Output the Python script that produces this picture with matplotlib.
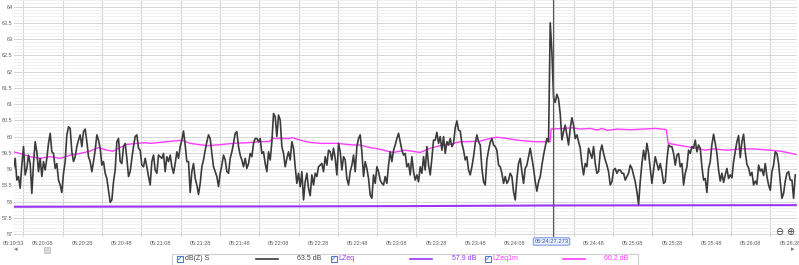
import numpy as np
import matplotlib.pyplot as plt
from matplotlib.patches import Rectangle
from matplotlib.lines import Line2D

plt.rcParams['font.family'] = ['Liberation Sans', 'DejaVu Sans']

# start of record, sample step of dB(Z) S (seconds)
start_hms = (5, 19, 53)
dt = 0.848

# dB(Z) S
zs_db = [
    59.02, 59.33, 58.66, 58.77, 58.41, 59.12, 59.69, 58.82, 59.02, 59.43,
    59.17, 58.25, 59.17, 59.84, 59.53, 58.92, 59.33, 58.77, 59.23, 58.97,
    59.33, 59.79, 60.10, 59.53, 59.48, 59.02, 59.17, 58.66, 58.51, 58.28,
    58.87, 59.23, 60.05, 60.30, 60.25, 59.53, 59.23, 59.38, 59.69, 59.89,
    60.05, 59.69, 60.15, 60.23, 59.84, 59.38, 59.23, 58.92, 59.23, 59.58,
    60.05, 59.89, 59.64, 59.12, 59.23, 58.87, 58.71, 58.35, 57.98, 58.05,
    58.61, 58.97, 59.84, 59.94, 59.23, 59.17, 59.69, 59.79, 59.33, 58.77,
    58.92, 59.33, 59.69, 60.00, 60.05, 59.64,
    59.58, 59.12, 59.07, 59.33, 59.07, 58.77, 58.51, 59.23, 59.43, 58.97,
    58.87, 59.43, 59.38, 59.33, 59.48, 58.92, 59.38, 59.23, 59.43, 59.07,
    58.87, 59.17, 59.53, 59.33, 59.69, 59.89, 60.17, 59.74, 59.23, 59.23,
    58.28, 58.92, 59.17, 58.71, 58.51, 58.22, 58.56, 59.07, 59.28, 59.58,
    59.84, 60.05, 59.94, 59.48, 59.07, 58.92, 58.77, 58.46, 58.87, 59.12,
    59.43, 59.28, 58.92, 58.87, 59.33, 59.53, 59.79, 60.10, 60.15, 59.69,
    59.43, 59.28, 59.07, 59.33, 59.02, 59.17, 59.48, 59.38, 59.79, 59.94,
    59.94, 59.84, 59.94, 59.48, 59.53, 59.17, 58.92, 59.53,
    59.28, 59.84, 60.71, 60.61, 60.00, 60.66, 60.51, 59.69, 59.48, 59.07,
    59.33, 59.53, 59.28, 59.84, 59.64, 59.07, 58.56, 58.87, 58.46, 58.92,
    58.05, 58.61, 58.87, 58.41, 58.18, 58.82, 58.51, 58.87, 58.77, 59.07,
    59.12, 59.17, 58.92, 59.38, 59.12, 59.58, 59.53, 59.28, 59.64, 59.33,
    58.82, 59.79, 59.53, 58.97, 59.38, 59.28, 58.71, 58.51, 58.92, 59.12,
    59.43, 58.92, 59.69, 59.94, 60.05, 59.53, 58.77, 59.23, 59.02, 58.71,
    58.20, 58.10, 58.82, 58.56, 59.07, 58.92, 58.66, 58.56, 58.51, 58.77,
    58.56, 59.12, 59.53, 59.23, 59.58, 59.74, 59.94, 60.10,
    59.84, 59.58, 59.43, 59.48, 59.07, 59.17, 58.82, 59.38, 58.92, 58.66,
    58.82, 58.61, 59.07, 58.87, 59.38, 58.97, 59.69, 59.12, 58.82, 59.33,
    59.89, 59.89, 60.13, 59.79, 60.00, 59.58, 60.00, 59.48, 59.84, 59.74,
    59.94, 59.69, 59.79, 60.27, 60.48, 60.20, 60.17, 59.79, 59.58, 59.28,
    59.38, 58.97, 58.82, 59.07, 59.38, 59.79, 60.05, 59.84, 59.74, 59.02,
    58.61, 58.51, 59.28, 59.58, 59.82, 59.94, 59.74, 59.69, 59.58, 59.12,
    59.07, 58.87, 58.56, 58.77, 58.56, 58.66, 58.87, 58.77, 58.30, 58.05,
    58.71, 59.17, 59.33, 58.92, 58.56, 59.02, 59.12, 59.38,
    59.64, 59.33, 59.02, 58.61, 58.32, 58.61, 58.77, 59.12, 59.43, 59.69,
    59.94, 59.84, 63.50, 62.60, 61.20, 61.05, 61.30, 61.15, 60.70, 59.90,
    60.15, 60.35, 60.05, 59.74, 60.25, 60.58, 60.35, 59.94, 60.05, 59.84,
    59.64, 59.17, 58.82, 59.17, 59.07, 59.64, 59.48, 59.33, 59.69, 59.17,
    58.87, 58.92, 59.53, 59.74, 59.48, 59.28, 59.12, 58.92, 58.51, 58.61,
    58.97, 59.02, 58.87, 58.97, 58.97, 58.87, 58.87, 58.66, 58.77, 58.87,
    59.12, 59.02, 58.82, 58.61, 58.30, 57.91, 58.61, 59.17, 59.58, 59.28,
    59.79, 59.48, 59.02, 58.56, 58.97, 59.38, 59.17, 58.97,
    59.17, 58.92, 58.56, 58.61, 59.28, 59.74, 59.69, 59.69, 59.48, 59.12,
    59.43, 59.48, 59.07, 59.17, 58.51, 58.87, 59.07, 59.58, 59.48, 59.69,
    59.64, 59.89, 59.53, 59.74, 59.64, 59.07, 58.66, 58.71, 58.28, 59.02,
    59.23, 59.76, 60.07, 59.79, 59.48, 58.97, 58.63, 58.87, 58.59, 58.82,
    59.02, 58.71, 58.82, 58.73, 59.23, 59.53, 59.84, 60.03, 59.35, 59.84,
    60.07, 59.53, 59.14, 59.04, 58.80, 58.90, 58.51, 58.63, 58.53, 59.12,
    58.94, 59.00, 58.80, 59.17, 58.77, 58.51, 58.35, 58.92, 59.12, 59.53,
    59.48, 59.17, 58.61, 58.10, 58.25, 58.63, 58.87, 58.92, 58.66, 58.66,
    58.10, 58.82,
]

# LZeq (almost flat)
lzeq_t = [0, 130, 200, 273.5, 398]
lzeq_db = [57.84, 57.85, 57.86, 57.88, 57.89]

# LZeq1m
lzeq1m_t = [0, 3.3, 8.4, 13.5, 18.6, 23.7, 28.8, 33.8, 38.9, 43.0,
            47.6, 50.6, 54.2, 57.8, 62.9, 66.9, 69.5, 81.2, 85.8, 89.8,
            98.5, 105.1, 111.7, 118.8, 125.4, 130.5, 131.5, 140.7, 141.7, 145.8,
            150.9, 156.0, 164.6, 172.8, 176.3, 181.4, 186.5, 191.6, 193.1, 196.7,
            199.2, 206.9, 212.0, 217.0, 222.1, 227.2, 230.8, 237.4, 242.5, 246.1,
            251.1, 256.2, 261.3, 265.4, 271.5, 273.0, 273.5, 279.6, 284.2, 288.3,
            293.4, 296.9, 299.5, 302.0, 307.1, 313.7, 320.3, 326.5, 331.6, 332.1,
            333.1, 337.7, 345.8, 351.9, 356.0, 363.1, 369.7, 376.3, 385.0, 390.1,
            393.6, 398.0]
lzeq1m_db = [59.53, 59.48, 59.38, 59.33, 59.38, 59.33, 59.43, 59.48, 59.55, 59.66,
             59.58, 59.55, 59.66, 59.76, 59.79, 59.81, 59.79, 59.86, 59.89, 59.79,
             59.72, 59.75, 59.79, 59.81, 59.84, 59.85, 59.94, 59.94, 59.97, 59.89,
             59.82, 59.79, 59.79, 59.74, 59.74, 59.66, 59.61, 59.53, 59.51, 59.55,
             59.58, 59.51, 59.64, 59.72, 59.76, 59.84, 59.84, 59.86, 59.94, 59.98,
             59.94, 59.89, 59.86, 59.84, 59.84, 59.84, 60.23, 60.25, 60.27, 60.23,
             60.25, 60.20, 60.25, 60.19, 60.23, 60.21, 60.23, 60.25, 60.22, 60.20,
             59.79, 59.74, 59.66, 59.58, 59.62, 59.58, 59.62, 59.62, 59.58, 59.55,
             59.51, 59.45]

cursor_t = 274.27
cursor_label = "05:24:27.273"
legend_names = ["dB(Z) S", "LZeq", "LZeq1m"]
legend_values = ["63.5 dB", "57.9 dB", "60.2 dB"]
colors = ["#3b3b3b", "#9b35f5", "#ff3cff"]

W, H = 799, 265


def hms(sec, pos=None):
    s = start_hms[0] * 3600 + start_hms[1] * 60 + start_hms[2] + int(round(sec))
    return "%02d:%02d:%02d" % (s // 3600, s // 60 % 60, s % 60)


def fx(px):
    return px / W


def fy(py):
    return 1 - py / H


fig = plt.figure(figsize=(W / 100, H / 100), dpi=100)
ax = fig.add_axes([fx(13.5), fy(237), (797 - 13.5) / W, 237 / H])

t = np.arange(len(zs_db)) * dt
ax.plot(t, zs_db, color=colors[0], lw=1.2, zorder=4)
ax.plot(lzeq_t, lzeq_db, color=colors[1], lw=1.5, zorder=3)
ax.plot(lzeq1m_t, lzeq1m_db, color=colors[2], lw=1.0, zorder=3)
ax.axvline(cursor_t, color="#555555", lw=0.8, zorder=5)

ax.set_xlim(0, 398.6)
ax.set_ylim(56.91, 64.2)
ax.set_yticks(np.arange(57, 64.01, 0.5))
ax.set_yticks(np.arange(57, 64.2, 0.1), minor=True)
ax.yaxis.set_major_formatter(lambda v, p: "%g" % round(v, 1))
# the label under the cursor is replaced by the cursor time box
ax.set_xticks([0] + [s for s in range(15, 396, 20) if s != 275])
ax.set_xticks(np.arange(5, 398, 10), minor=True)
ax.xaxis.set_major_formatter(hms)

ax.grid(which="minor", axis="y", color="#eeeeee", lw=0.6)
ax.grid(which="major", axis="y", color="#d6d6d6", lw=0.7)
ax.grid(which="minor", axis="x", color="#d4d4d4", lw=0.8)
ax.set_axisbelow(True)
ax.tick_params(which="both", length=0)
ax.tick_params(axis="y", pad=0.6, labelsize=4.0, labelcolor="#606060")
ax.tick_params(axis="x", pad=2.8, labelsize=4.0, labelcolor="#606060")
for s in ax.spines.values():
    s.set_visible(False)

# cursor time box
fig.text(fx(551.5), fy(241.5), cursor_label, ha="center", va="center",
         fontsize=4.2, color="#3050a0",
         bbox=dict(boxstyle="round,pad=0.2", fc="#eef3ff", ec="#6a8ae6", lw=0.7))

# zoom buttons
fig.text(fx(779), fy(232), "\u2296", ha="center", va="center", fontsize=7, color="#444444")
fig.text(fx(790), fy(232), "\u2295", ha="center", va="center", fontsize=7, color="#444444")

# scroll bar
fig.text(fx(16), fy(250), "\u25c2", ha="center", va="center", fontsize=5, color="#777777")
fig.text(fx(793), fy(250), "\u25b8", ha="center", va="center", fontsize=5, color="#777777")
fig.patches.append(Rectangle((fx(44), fy(253)), 6 / W, 6 / H, transform=fig.transFigure,
                             fc="#d8d8d8", ec="#bcbcbc", lw=0.5))

# legend strip
fig.patches.append(Rectangle((fx(172), 0), (638 - 172) / W, 11 / H, transform=fig.transFigure,
                             fc="white", ec="#cfcfcf", lw=0.8))
box_x = [177, 331, 485]
name_x = [185, 338, 492]
line_x = [(256, 278), (410, 432), (563, 585)]
val_x = [297, 452, 604]
txt_colors = ["#444444", colors[1], colors[2]]
for i in range(3):
    fig.patches.append(Rectangle((fx(box_x[i]), fy(262)), 6 / W, 6 / H, transform=fig.transFigure,
                                 fc="white", ec="#4a7fd8", lw=0.8))
    fig.text(fx(box_x[i] + 3), fy(259), "\u2713", ha="center", va="center",
             fontsize=5, color="#2f6fd6")
    fig.text(fx(name_x[i]), fy(259), legend_names[i], ha="left", va="center",
             fontsize=5, color=txt_colors[i])
    fig.lines.append(Line2D([fx(line_x[i][0]), fx(line_x[i][1])], [fy(259), fy(259)],
                            transform=fig.transFigure, color=colors[i], lw=1.2))
    fig.text(fx(val_x[i]), fy(259), legend_values[i], ha="left", va="center",
             fontsize=5, color=txt_colors[i])

fig.savefig("out.png", dpi=100)
